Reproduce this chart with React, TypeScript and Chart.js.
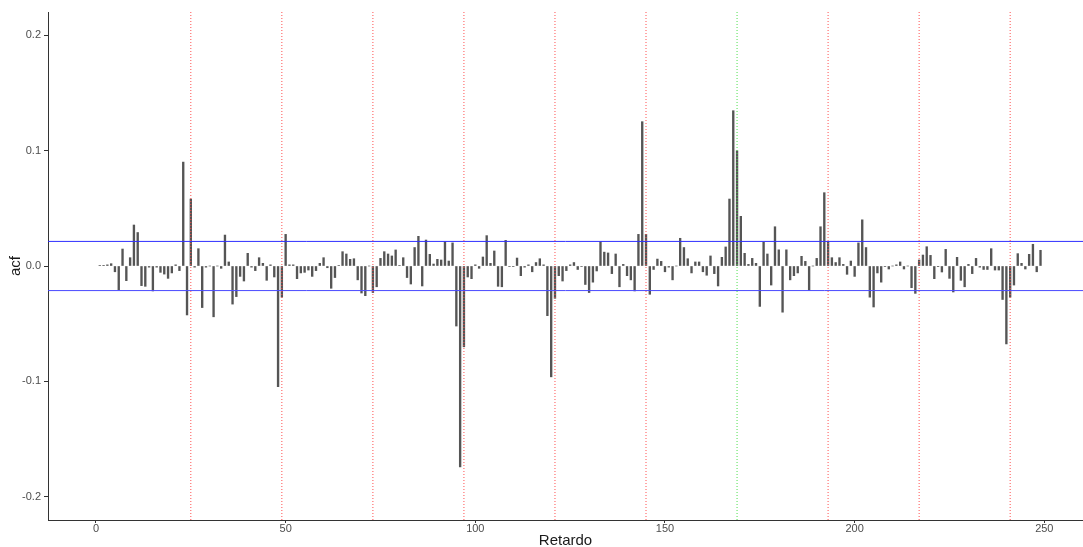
import React, { useEffect, useRef } from "react";
import { Chart, registerables } from "chart.js";

Chart.register(...registerables);

// Sample autocorrelation, lags 1..249
const acfValues: number[] = [
  0.0005, 0.0003, 0.001, 0.002, -0.005, -0.0205, 0.0147, -0.0127, 0.0072, 0.0355, 0.029, -0.017,
  -0.0176, -0.001, -0.0216, -0.001, -0.0055, -0.007, -0.0107, -0.006, 0.001, -0.004, 0.09, -0.0424,
  0.058, -0.001, 0.015, -0.036, -0.001, 0.0, -0.044, 0.0, -0.002, 0.0268, 0.0035, -0.033,
  -0.0265, -0.009, -0.013, 0.011, -0.001, -0.004, 0.0072, 0.0023, -0.0124, 0.001, -0.0095, -0.1045,
  -0.027, 0.0274, 0.001, 0.001, -0.011, -0.006, -0.0055, -0.0035, -0.009, -0.004, 0.0023, 0.0072,
  -0.0015, -0.0193, -0.01, 0.0005, 0.0124, 0.0104, 0.0058, 0.0063, -0.012, -0.0234, -0.0257, 0.0,
  -0.023, -0.018, 0.0066, 0.0124, 0.0104, 0.0087, 0.0139, 0.0005, 0.0072, -0.01, -0.0156, 0.016,
  0.0257, -0.0173, 0.0225, 0.0101, 0.0017, 0.0058, 0.0052, 0.021, 0.0043, 0.02, -0.052, -0.174,
  -0.07, -0.0095, -0.011, 0.001, -0.002, 0.0078, 0.0263, 0.0023, 0.013, -0.0176, -0.018, 0.0222,
  -0.0005, -0.0005, 0.0069, -0.0084, -0.001, 0.001, -0.005, 0.003, 0.0063, 0.001, -0.043, -0.096,
  -0.028, -0.0084, -0.013, -0.004, 0.001, 0.003, -0.003, -0.0005, -0.016, -0.023, -0.014, -0.0043,
  0.021, 0.012, 0.0113, -0.0066, 0.0104, -0.018, 0.0014, -0.0084, -0.012, -0.0216, 0.0274, 0.125,
  0.0274, -0.0245, -0.003, 0.006, 0.004, -0.005, -0.001, -0.012, 0.0, 0.024, 0.016, 0.0063,
  -0.006, 0.0035, 0.0035, -0.005, -0.008, 0.0087, -0.0066, -0.0173, 0.0075, 0.0165, 0.058, 0.1345,
  0.0998, 0.043, 0.011, 0.0014, 0.0066, 0.0023, -0.035, 0.0205, 0.0104, -0.0165, 0.034, 0.014,
  -0.04, 0.014, -0.012, -0.0084, -0.006, 0.0084, 0.004, -0.021, 0.0, 0.0066, 0.034, 0.0635,
  0.021, 0.0072, 0.003, 0.0072, 0.0014, -0.0072, 0.0043, -0.009, 0.02, 0.04, 0.016, -0.027,
  -0.0355, -0.006, -0.014, -0.0005, -0.0026, 0.0, 0.001, 0.0035, -0.0026, 0.0, -0.0188, -0.0237,
  0.0052, 0.0095, 0.0167, 0.0092, -0.011, -0.0006, -0.0052, 0.0144, -0.0107, -0.0225, 0.0075, -0.0124,
  -0.018, 0.0014, -0.0066, 0.0066, -0.001, -0.003, -0.003, 0.015, -0.0035, -0.0035, -0.029, -0.0675,
  -0.027, -0.0165, 0.0107, 0.0023, -0.0026, 0.0101, 0.0188, -0.005, 0.0136,
];

// Lag number of each autocorrelation value
const lags: number[] = acfValues.map((_, i) => i + 1);

// Seasonal lags (daily cycle) marked with dotted verticals
const seasonalLags: number[] = [25, 49, 73, 97, 121, 145, 169, 193, 217, 241];
const seasonalColors: string[] = [
  "#ff5050", "#ff5050", "#ff5050", "#ff5050", "#ff5050",
  "#ff5050", "#4ce04c", "#ff5050", "#ff5050", "#ff5050",
];

// Approximate 95% confidence bound
const confLimit = 0.0213;

const xTickValues: number[] = [0, 50, 100, 150, 200, 250];
const yTickValues: number[] = [-0.2, -0.1, 0, 0.1, 0.2];
const xRange: number[] = [-12.65, 260.2];
const yRange: number[] = [-0.22, 0.22];

const FONT = "'Liberation Sans', Arial, Helvetica, sans-serif";

export default function App() {
  const canvasRef = useRef<HTMLCanvasElement | null>(null);

  useEffect(() => {
    document.body.style.margin = "0";
    const canvas = canvasRef.current;
    if (!canvas) return;

    const barData = lags.map((lag, i) => ({ x: lag, y: acfValues[i] }));

    const confDatasets = [confLimit, -confLimit].map((v, i) => ({
      type: "line" as const,
      data: [
        { x: xRange[0], y: v },
        { x: xRange[1], y: v },
      ],
      borderColor: i === 0 ? "#2f2fff" : "#4a4aff",
      borderWidth: 1,
      pointRadius: 0,
      fill: false,
      order: 1,
    }));

    const seasonalDatasets = seasonalLags.map((lag, i) => ({
      type: "line" as const,
      data: [
        { x: lag, y: yRange[0] },
        { x: lag, y: yRange[1] },
      ],
      borderColor: seasonalColors[i],
      borderWidth: 1,
      borderDash: [1, 2],
      pointRadius: 0,
      fill: false,
      order: 0,
    }));

    const chart = new Chart(canvas, {
      type: "bar",
      data: {
        datasets: [
          {
            type: "bar" as const,
            data: barData,
            backgroundColor: "#555555",
            borderWidth: 0,
            barThickness: 1.7,
            grouped: false,
            order: 2,
          },
          ...confDatasets,
          ...seasonalDatasets,
        ] as any,
      },
      options: {
        animation: false,
        responsive: false,
        devicePixelRatio: 1,
        layout: { padding: { top: 12, right: 0, left: 0, bottom: 0 } },
        plugins: {
          legend: { display: false },
          tooltip: { enabled: false },
        },
        scales: {
          x: {
            type: "linear",
            min: xRange[0],
            max: xRange[1],
            offset: false,
            afterFit: (scale: any) => {
              scale.height = 27;
            },
            afterBuildTicks: (scale: any) => {
              scale.ticks = xTickValues.map((v) => ({ value: v }));
            },
            grid: {
              offset: false,
              drawOnChartArea: false,
              drawTicks: true,
              tickLength: 3,
              tickColor: "#333333",
            },
            border: { display: true, color: "#333333", width: 1 },
            ticks: {
              padding: 0,
              color: "#4d4d4d",
              font: { family: FONT, size: 11, lineHeight: 1 },
              maxRotation: 0,
              callback: (v: any) => String(v),
            },
            title: {
              display: true,
              text: "Retardo",
              color: "#1a1a1a",
              font: { family: FONT, size: 15 },
              padding: { top: 0, bottom: -3 },
            },
          },
          y: {
            type: "linear",
            min: yRange[0],
            max: yRange[1],
            afterFit: (scale: any) => {
              scale.width = 48;
            },
            afterBuildTicks: (scale: any) => {
              scale.ticks = yTickValues.map((v) => ({ value: v }));
            },
            grid: {
              offset: false,
              drawOnChartArea: false,
              drawTicks: true,
              tickLength: 4,
              tickColor: "#333333",
            },
            border: { display: true, color: "#333333", width: 1 },
            ticks: {
              padding: 3,
              color: "#4d4d4d",
              font: { family: FONT, size: 11 },
              callback: (v: any) => Number(v).toFixed(1),
            },
            title: {
              display: true,
              text: "acf",
              color: "#1a1a1a",
              font: { family: FONT, size: 15 },
              padding: { top: 7, bottom: 0 },
            },
          },
        },
      } as any,
    });

    return () => chart.destroy();
  }, []);

  return (
    <div style={{ width: 1083, height: 547 }}>
      <canvas ref={canvasRef} width={1083} height={547} style={{ display: "block" }} />
    </div>
  );
}
